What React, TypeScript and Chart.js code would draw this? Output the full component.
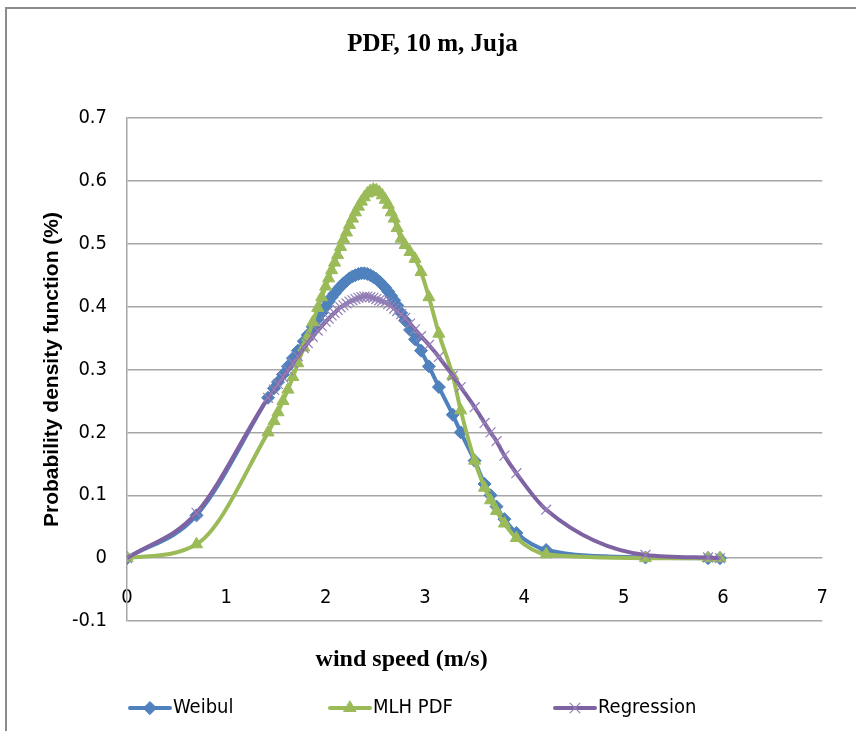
import React, { useEffect, useRef } from 'react';
import { Chart, registerables } from 'chart.js';
import { drawPoint } from 'chart.js/helpers';

Chart.register(...registerables);

// wind speed (m/s)
const windSpeed = [
  0, 0.7, 1.42, 1.48, 1.52, 1.57, 1.62, 1.67, 1.72, 1.78, 1.82, 1.87, 1.92, 1.96,
  2.0, 2.03, 2.06, 2.09, 2.12, 2.15, 2.18, 2.21, 2.24, 2.27, 2.3, 2.33, 2.36, 2.39,
  2.42, 2.45, 2.48, 2.51, 2.54, 2.57, 2.6, 2.63, 2.66, 2.69, 2.72, 2.76, 2.8, 2.85,
  2.9, 2.96, 3.04, 3.14, 3.28, 3.36, 3.5, 3.6, 3.66, 3.72, 3.8, 3.92, 4.22, 5.22,
  5.85, 5.97,
];

const weibul = [
  0, 0.068, 0.255, 0.27, 0.28, 0.292, 0.305, 0.318, 0.33, 0.345, 0.355, 0.368, 0.38, 0.39,
  0.4, 0.408, 0.415, 0.421, 0.427, 0.432, 0.437, 0.441, 0.445, 0.448, 0.45, 0.452, 0.453, 0.453,
  0.452, 0.45, 0.447, 0.444, 0.44, 0.435, 0.43, 0.424, 0.417, 0.41, 0.402, 0.39, 0.378, 0.363,
  0.348, 0.33, 0.305, 0.272, 0.228, 0.2, 0.155, 0.118, 0.1, 0.082, 0.062, 0.04, 0.013, 0.001,
  0, 0,
];

const mlhPdf = [
  0, 0.022, 0.2, 0.218, 0.232, 0.25, 0.268, 0.288, 0.31, 0.335, 0.352, 0.375, 0.398, 0.415,
  0.432, 0.445, 0.458, 0.47, 0.482, 0.495, 0.507, 0.518, 0.53, 0.54, 0.55, 0.559, 0.567, 0.574,
  0.58, 0.584, 0.586, 0.585, 0.582, 0.577, 0.57, 0.562, 0.55, 0.54, 0.525, 0.508, 0.498, 0.487,
  0.476, 0.455, 0.415, 0.357, 0.29, 0.235, 0.155, 0.112, 0.092, 0.075, 0.055, 0.032, 0.006, 0,
  0, 0,
];

const regression = [
  0, 0.072, 0.255, 0.268, 0.277, 0.288, 0.299, 0.31, 0.321, 0.334, 0.342, 0.352, 0.362, 0.369,
  0.376, 0.381, 0.386, 0.39, 0.395, 0.399, 0.402, 0.405, 0.408, 0.41, 0.412, 0.414, 0.415, 0.416,
  0.416, 0.415, 0.414, 0.412, 0.41, 0.409, 0.407, 0.404, 0.401, 0.397, 0.393, 0.388, 0.382, 0.373,
  0.364, 0.353, 0.339, 0.32, 0.29, 0.272, 0.24, 0.215, 0.2, 0.186, 0.163, 0.135, 0.077, 0.005,
  0.001, 0,
];

const seriesNames = ['Weibul', 'MLH PDF', 'Regression'];
const xTickValues = [0, 1, 2, 3, 4, 5, 6, 7];
const yTickValues = [-0.1, 0, 0.1, 0.2, 0.3, 0.4, 0.5, 0.6, 0.7];

const chartTitle = 'PDF, 10 m, Juja';
const xTitle = 'wind speed (m/s)';
const yTitle = 'Probability density function (%)';

const BLUE = '#4F81BD';
const GREEN = '#9BBB59';
const PURPLE = '#7F62A1';
const PURPLE_MARK = '#9580B8';
const GRID = '#A6A6A6';
const NARROW = "'Liberation Sans Narrow', 'DejaVu Sans Condensed', 'Arial Narrow', sans-serif";
const SERIF = "'Liberation Serif', 'DejaVu Serif', serif";

const toPoints = (ys: number[]) => windSpeed.map((x, i) => ({ x, y: ys[i] }));

const styles = [
  { line: BLUE, mark: BLUE, pointStyle: 'rectRot', radius: 6.5, bw: 1 },
  { line: GREEN, mark: GREEN, pointStyle: 'triangle', radius: 7, bw: 1 },
  { line: PURPLE, mark: PURPLE_MARK, pointStyle: 'crossRot', radius: 7, bw: 1.2 },
];

// Draws the x-axis title and the Excel-style legend (line + marker samples).
const extrasPlugin = {
  id: 'excelExtras',
  afterDraw(chart: any) {
    const ctx = chart.ctx;
    const area = chart.chartArea;
    ctx.save();
    // x-axis title, below the plot area
    ctx.fillStyle = '#000';
    ctx.font = `bold 24px ${SERIF}`;
    ctx.textAlign = 'center';
    ctx.textBaseline = 'middle';
    ctx.fillText(xTitle, area.left + area.width * 0.395, area.bottom + 39);

    // legend
    const cy = area.bottom + 87;
    const starts = [123, 323, 548];
    const len = 40;
    seriesNames.forEach((name, i) => {
      const s = styles[i];
      const x0 = starts[i];
      ctx.strokeStyle = s.line;
      ctx.lineWidth = 4;
      ctx.lineCap = 'round';
      ctx.beginPath();
      ctx.moveTo(x0, cy);
      ctx.lineTo(x0 + len, cy);
      ctx.stroke();
      ctx.fillStyle = s.mark;
      ctx.strokeStyle = s.mark;
      ctx.lineWidth = s.bw;
      drawPoint(ctx, { pointStyle: s.pointStyle, rotation: 0, radius: s.radius, borderWidth: s.bw }, x0 + len / 2, cy);
      ctx.fillStyle = '#000';
      ctx.font = `20px ${NARROW}`;
      ctx.textAlign = 'left';
      ctx.textBaseline = 'middle';
      ctx.fillText(name, x0 + len + 3, cy);
    });
    ctx.restore();
  },
};

export default function App() {
  const ref = useRef<HTMLCanvasElement | null>(null);

  useEffect(() => {
    if (!ref.current) return;
    const seriesData = [weibul, mlhPdf, regression];
    const chart = new Chart(ref.current, {
      type: 'line',
      data: {
        datasets: seriesNames.map((name, i) => ({
          label: name,
          data: toPoints(seriesData[i]),
          borderColor: styles[i].line,
          backgroundColor: styles[i].mark,
          pointBackgroundColor: styles[i].mark,
          pointBorderColor: styles[i].mark,
          pointBorderWidth: styles[i].bw,
          pointStyle: styles[i].pointStyle as any,
          pointRadius: styles[i].radius,
          borderWidth: 4,
          cubicInterpolationMode: 'monotone',
          fill: false,
          order: 3 - i,
        })),
      },
      options: {
        animation: false,
        responsive: false,
        maintainAspectRatio: false,
        layout: { padding: { left: 30, right: 28, top: 0, bottom: 110 } },
        plugins: {
          legend: { display: false },
          tooltip: { enabled: false },
          title: {
            display: true,
            text: chartTitle,
            color: '#000',
            font: { family: SERIF, size: 25, weight: 'bold' },
            padding: { top: 21, bottom: 58 },
          },
        },
        scales: {
          x: {
            type: 'linear',
            position: { y: 0 } as any,
            min: 0,
            max: 7,
            afterBuildTicks: (scale: any) => {
              scale.ticks = xTickValues.map((v) => ({ value: v }));
            },
            grid: { display: false, drawTicks: false },
            border: { display: false },
            ticks: {
              color: '#000',
              padding: 28,
              font: { family: NARROW, size: 20 },
              maxRotation: 0,
              autoSkip: false,
              callback: (v: any) => String(v),
            },
          },
          y: {
            type: 'linear',
            min: -0.1,
            max: 0.7,
            afterBuildTicks: (scale: any) => {
              scale.ticks = yTickValues.map((v) => ({ value: v }));
            },
            afterFit: (scale: any) => {
              scale.width = 90;
            },
            grid: { color: GRID, lineWidth: 1.5, drawTicks: false },
            border: { display: true, color: GRID, width: 1.5 },
            ticks: {
              color: '#000',
              padding: 20,
              font: { family: NARROW, size: 20 },
              callback: (v: any) => String(Math.round(Number(v) * 10) / 10),
            },
            title: {
              display: true,
              text: yTitle,
              color: '#000',
              font: { family: "'Liberation Sans', 'DejaVu Sans', sans-serif", size: 21, weight: 'bold' },
              padding: { top: 3, bottom: 0 },
            },
          },
        },
      },
      plugins: [extrasPlugin],
    });
    return () => chart.destroy();
  }, []);

  return (
    <div
      style={{
        position: 'absolute',
        left: 5,
        top: 7,
        width: 851,
        height: 724,
        boxSizing: 'border-box',
        borderLeft: '2px solid #8C8C8C',
        borderTop: '2px solid #8C8C8C',
        background: '#fff',
      }}
    >
      <canvas ref={ref} width={849} height={722} style={{ display: 'block' }} />
    </div>
  );
}
